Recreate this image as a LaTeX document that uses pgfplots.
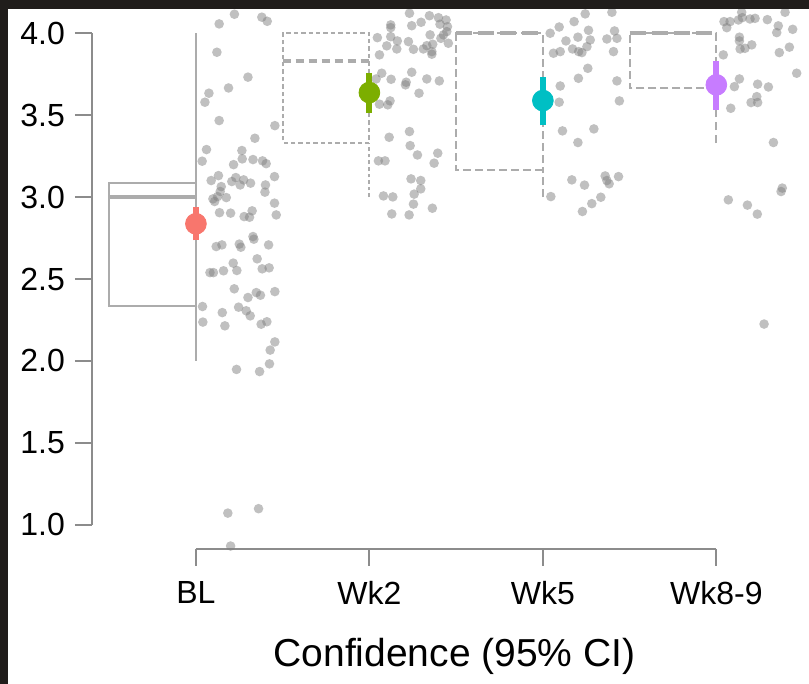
\documentclass[border=0pt]{standalone}
\usepackage{pgfplots}
\pgfplotsset{compat=1.18}
\usepackage{pgfplotstable}
\usepackage{fontspec}
\setmainfont{Liberation Sans}
\definecolor{framecol}{RGB}{32,29,27}
\definecolor{axisgray}{RGB}{140,140,140}
\definecolor{boxgray}{RGB}{172,172,172}
\definecolor{ptgray}{RGB}{130,130,130}
\definecolor{cBL}{HTML}{F8766D}
\definecolor{cWkTwo}{HTML}{7CAE00}
\definecolor{cWkFive}{HTML}{00BFC4}
\definecolor{cWkEight}{HTML}{C77CFF}

\pgfplotstableread{
x y
1.222 4.116
1.134 4.057
1.380 4.098
1.411 4.073
1.121 3.884
1.300 3.732
1.188 3.666
1.075 3.634
1.052 3.579
1.134 3.467
1.455 3.436
1.340 3.359
1.061 3.290
1.265 3.284
1.036 3.219
1.267 3.233
1.329 3.229
1.384 3.221
1.405 3.204
1.217 3.198
1.453 3.125
1.130 3.131
1.088 3.101
1.230 3.119
1.207 3.095
1.275 3.105
1.315 3.085
1.146 3.064
1.401 3.074
1.255 3.074
1.098 2.989
1.108 2.973
1.125 3.003
1.175 2.997
1.140 3.034
1.398 3.030
1.453 2.963
1.136 2.905
1.200 2.902
1.278 2.881
1.309 2.877
1.324 2.916
1.463 2.891
1.117 2.698
1.150 2.708
1.250 2.713
1.259 2.694
1.329 2.759
1.334 2.743
1.419 2.708
1.215 2.597
1.353 2.623
1.081 2.539
1.101 2.539
1.159 2.550
1.236 2.552
1.382 2.562
1.422 2.568
1.221 2.440
1.300 2.387
1.348 2.417
1.372 2.401
1.455 2.423
1.038 2.332
1.152 2.295
1.246 2.328
1.290 2.306
1.313 2.275
1.040 2.237
1.167 2.214
1.376 2.224
1.409 2.239
1.455 2.116
1.428 2.066
1.424 1.982
1.234 1.948
1.367 1.935
1.184 1.071
1.361 1.098
1.200 0.870
}\ptsBL

\pgfplotstableread{
x y
2.231 4.122
2.346 4.107
2.398 4.095
2.442 4.081
2.123 4.051
2.123 4.034
2.244 4.046
2.298 4.067
2.407 4.055
2.450 4.040
2.446 4.010
2.427 3.990
2.046 3.973
2.123 3.979
2.350 3.990
2.161 3.953
2.225 3.949
2.412 3.969
2.100 3.923
2.158 3.904
2.254 3.902
2.311 3.904
2.331 3.924
2.365 3.933
2.360 3.888
2.360 3.872
2.455 3.939
2.058 3.868
2.071 3.756
2.244 3.762
2.039 3.721
2.125 3.719
2.212 3.701
2.208 3.685
2.331 3.721
2.403 3.709
2.286 3.634
2.058 3.567
2.106 3.563
2.119 3.587
2.114 3.365
2.231 3.400
2.235 3.314
2.277 3.257
2.394 3.268
2.373 3.207
2.052 3.221
2.090 3.221
2.240 3.111
2.296 3.101
2.296 3.050
2.258 3.018
2.081 3.007
2.135 3.001
2.254 2.957
2.363 2.932
2.129 2.897
2.229 2.891
}\ptsWkTwo

\pgfplotstableread{
x y
3.244 4.118
3.398 4.128
3.180 4.071
3.094 4.038
3.042 4.000
3.263 4.018
3.413 4.014
3.202 3.976
3.133 3.953
3.273 3.959
3.369 3.965
3.427 3.969
3.171 3.904
3.206 3.888
3.225 3.882
3.254 3.918
3.061 3.878
3.100 3.888
3.407 3.888
3.259 3.786
3.205 3.725
3.427 3.709
3.100 3.678
3.094 3.579
3.441 3.587
3.113 3.404
3.294 3.416
3.202 3.333
3.167 3.105
3.240 3.073
3.359 3.129
3.369 3.101
3.382 3.081
3.436 3.125
3.046 3.003
3.334 2.999
3.282 2.960
3.228 2.912
}\ptsWkFive

\pgfplotstableread{
x y
4.146 4.128
4.396 4.128
4.044 4.071
4.079 4.071
4.060 4.034
4.127 4.081
4.150 4.095
4.194 4.087
4.223 4.091
4.294 4.083
4.357 4.045
4.348 4.004
4.440 4.024
4.133 3.976
4.133 3.953
4.137 3.904
4.165 3.908
4.204 3.929
4.363 3.882
4.421 3.915
4.040 3.868
4.463 3.756
4.133 3.721
4.104 3.674
4.238 3.689
4.300 3.672
4.233 3.613
4.200 3.577
4.238 3.577
4.083 3.542
4.329 3.333
4.380 3.055
4.373 3.034
4.069 2.983
4.179 2.951
4.236 2.896
4.275 2.225
}\ptsWkEight

\begin{document}
\begin{tikzpicture}
\useasboundingbox (0,0) rectangle (404.5pt,342pt);
\fill[white] (0,0) rectangle (404.5pt,342pt);
\begin{axis}[
  at={(46pt,67.5pt)}, anchor=south west,
  scale only axis, width=358.5pt, height=270pt,
  xmin=0.401, xmax=4.534, ymin=0.852, ymax=4.148,
  clip=false,
  axis x line*=bottom, axis y line*=left,
  axis line style={draw=none},
  xtick={1,2,3,4}, xticklabels={BL,Wk2,Wk5,Wk8-9},
  ytick={1,1.5,2,2.5,3,3.5,4},
  yticklabels={1.0,1.5,2.0,2.5,3.0,3.5,4.0},
  tick align=outside, major tick length=8.5pt,
  tick style={axisgray, line width=1pt},
  tick label style={font=\fontsize{16}{19}\selectfont, text=black},
  xticklabel style={yshift=-4pt},
  yticklabel style={xshift=-1.5pt},
  xlabel={Confidence (95\% CI)},
  xlabel style={font=\fontsize{19.5}{23}\selectfont, at={(rel axis cs:0.5056,0)}, anchor=base, yshift=-59pt},
]
% axis lines
\draw[axisgray, line width=1pt] (axis cs:0.401,1) -- (axis cs:0.401,4);
\draw[axisgray, line width=1pt] (axis cs:1,0.852) -- (axis cs:4,0.852);

% BL half box (solid)
\addplot[boxgray, line width=1pt, no marks] coordinates {(1,2.336) (0.5,2.336) (0.5,3.085) (1,3.085)};
\addplot[boxgray, line width=1pt, no marks] coordinates {(1,2.0) (1,4.0)};
\addplot[boxgray, line width=2pt, no marks] coordinates {(0.5,3.0) (1,3.0)};

% Wk2 half box (short dashes)
\addplot[boxgray, line width=1pt, no marks, dash pattern=on 2.2pt off 1.5pt] coordinates {(2,3.333) (1.5,3.333) (1.5,4.0) (2,4.0) (2,3.333)};
\addplot[boxgray, line width=1pt, no marks, dash pattern=on 1.8pt off 1.5pt] coordinates {(2,3.0) (2,3.333)};
\addplot[boxgray, line width=2pt, no marks, dash pattern=on 4pt off 2.5pt] coordinates {(1.5,3.833) (2,3.833)};

% Wk5 half box (long dashes)
\addplot[boxgray, line width=1pt, no marks, dash pattern=on 4pt off 2pt] coordinates {(3,3.166) (2.5,3.166) (2.5,4.0) (3,4.0) (3,3.166)};
\addplot[boxgray, line width=1pt, no marks, dash pattern=on 4pt off 2pt] coordinates {(3,3.0) (3,3.166)};
\addplot[boxgray, line width=2pt, no marks, dash pattern=on 8pt off 3pt] coordinates {(2.5,4.0) (3,4.0)};

% Wk8-9 half box (long dashes)
\addplot[boxgray, line width=1pt, no marks, dash pattern=on 4pt off 2pt] coordinates {(4,3.667) (3.5,3.667) (3.5,4.0) (4,4.0) (4,3.667)};
\addplot[boxgray, line width=1pt, no marks, dash pattern=on 4pt off 2.5pt] coordinates {(4,3.33) (4,3.667)};
\addplot[boxgray, line width=2pt, no marks, dash pattern=on 8pt off 3pt] coordinates {(3.5,4.0) (4,4.0)};

% jittered raw points
\pgfplotsset{rawpts/.style={only marks, mark=*, mark size=2.4pt, color=ptgray, draw opacity=0, fill opacity=0.5}}
\addplot[rawpts] table[x=x,y=y] {\ptsBL};
\addplot[rawpts] table[x=x,y=y] {\ptsWkTwo};
\addplot[rawpts] table[x=x,y=y] {\ptsWkFive};
\addplot[rawpts] table[x=x,y=y] {\ptsWkEight};

% means with 95% CI
\addplot[cBL, line width=3pt, no marks] coordinates {(1,2.735) (1,2.938)};
\addplot[cBL, only marks, mark=*, mark size=5.2pt] coordinates {(1,2.837)};
\addplot[cWkTwo, line width=3pt, no marks] coordinates {(2,3.512) (2,3.760)};
\addplot[cWkTwo, only marks, mark=*, mark size=5.2pt] coordinates {(2,3.638)};
\addplot[cWkFive, line width=3pt, no marks] coordinates {(3,3.438) (3,3.735)};
\addplot[cWkFive, only marks, mark=*, mark size=5.2pt] coordinates {(3,3.589)};
\addplot[cWkEight, line width=3pt, no marks] coordinates {(4,3.532) (4,3.833)};
\addplot[cWkEight, only marks, mark=*, mark size=5.2pt] coordinates {(4,3.685)};
\end{axis}
\fill[framecol] (0,337.5pt) rectangle (404.5pt,342pt);
\fill[framecol] (0,0) rectangle (4pt,342pt);
\end{tikzpicture}
\end{document}
